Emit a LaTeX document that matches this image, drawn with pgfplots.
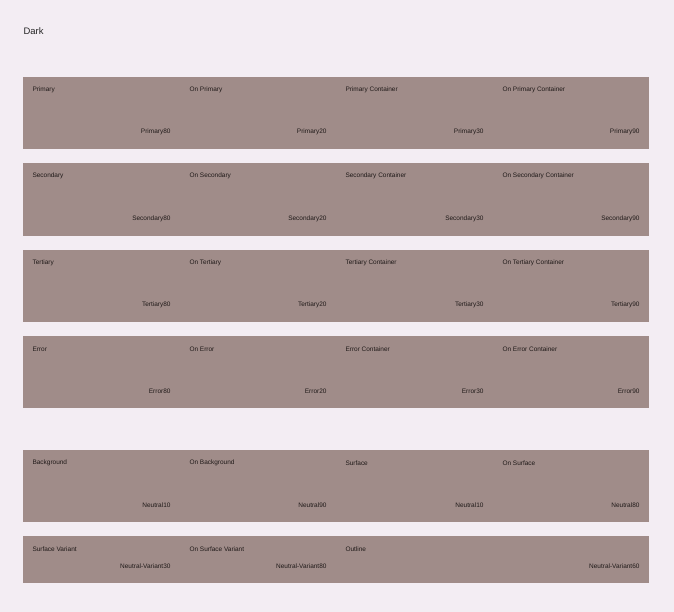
\documentclass[border=0pt]{standalone}
\usepackage{pgfplots}
\pgfplotsset{compat=1.18}
\usepackage{fontspec}
\setmainfont{Liberation Sans}
\definecolor{bg}{HTML}{F3EDF3}
\newcommand\cell[8]{%
\definecolor{cf}{HTML}{#5}\definecolor{ct}{HTML}{#6}%
\addplot[fill=cf,draw=none] coordinates {(#1,#2) (#3,#2) (#3,#4) (#1,#4)} --cycle;
\node[anchor=west,text=ct,font=\fontsize{6.5}{8}\selectfont] at (axis cs:#1+6,#2+13) {#7};
\node[anchor=east,text=ct,font=\fontsize{6.5}{8}\selectfont] at (axis cs:#3-6,#4-17) {#8};
}
\begin{document}
\begin{tikzpicture}
\begin{axis}[width=674bp,height=612bp,scale only axis,xmin=0,xmax=674,ymin=0,ymax=612,y dir=reverse,hide axis,clip=false]
\addplot[fill=bg,draw=none] coordinates {(0,0) (674,0) (674,612) (0,612)} --cycle;
\node[anchor=west,font=\fontsize{9.5}{11}\selectfont,text=black!85] at (axis cs:20,31) {Dark};
\cell{23}{77}{180}{149}{FFB4A8}{690000}{Primary}{Primary80}
\cell{180}{77}{336}{149}{690000}{FFB4A8}{On Primary}{Primary20}
\cell{336}{77}{493}{149}{930000}{FFDAD4}{Primary Container}{Primary30}
\cell{493}{77}{649}{149}{FFDAD4}{930000}{On Primary Container}{Primary90}
\cell{23}{163}{180}{236}{E7BDB6}{442925}{Secondary}{Secondary80}
\cell{180}{163}{336}{236}{442925}{E7BDB6}{On Secondary}{Secondary20}
\cell{336}{163}{493}{236}{5D3F3B}{FFDAD4}{Secondary Container}{Secondary30}
\cell{493}{163}{649}{236}{FFDAD4}{5D3F3B}{On Secondary Container}{Secondary90}
\cell{23}{250}{180}{322}{DEC48C}{3E2E04}{Tertiary}{Tertiary80}
\cell{180}{250}{336}{322}{3E2E04}{DEC48C}{On Tertiary}{Tertiary20}
\cell{336}{250}{493}{322}{564419}{FBDFA6}{Tertiary Container}{Tertiary30}
\cell{493}{250}{649}{322}{FBDFA6}{564419}{On Tertiary Container}{Tertiary90}
\cell{23}{336}{180}{408}{FFB4AB}{690005}{Error}{Error80}
\cell{180}{336}{336}{408}{690005}{FFB4AB}{On Error}{Error20}
\cell{336}{336}{493}{408}{93000A}{FFDAD6}{Error Container}{Error30}
\cell{493}{336}{649}{408}{FFDAD6}{93000A}{On Error Container}{Error90}
\cell{23}{450}{180}{522}{201A19}{EDE0DE}{Background}{Neutral10}
\cell{180}{450}{336}{522}{EDE0DE}{201A19}{On Background}{Neutral90}
\cell{336}{450}{493}{522}{201A19}{EDE0DE}{Surface}{Neutral10}
\cell{493}{450}{649}{522}{EDE0DE}{201A19}{On Surface}{Neutral80}
\cell{23}{536}{180}{583}{534341}{EDE0DE}{Surface Variant}{Neutral-Variant30}
\cell{180}{536}{336}{583}{D8C2BF}{201A19}{On Surface Variant}{Neutral-Variant80}
\cell{336}{536}{649}{583}{A08C89}{201A19}{Outline}{Neutral-Variant60}
\end{axis}
\end{tikzpicture}
\end{document}
